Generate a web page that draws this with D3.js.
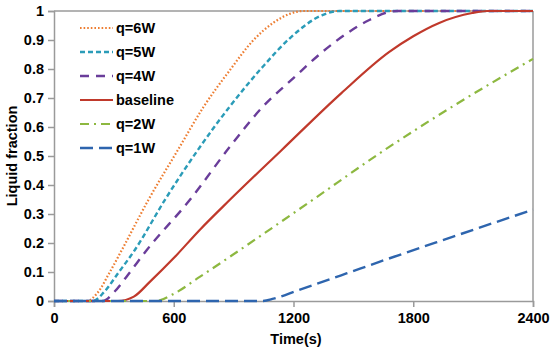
<!DOCTYPE html>
<html><head><meta charset="utf-8">
<script src="https://cdn.jsdelivr.net/npm/d3@7"></script>
<style>
body{margin:0;background:#fff;}
text{font-family:"Liberation Sans",Arial,sans-serif;font-weight:bold;fill:#000;}
</style></head>
<body><svg id="c" width="552" height="350"></svg>
<script>
// Data (time in s, liquid fraction)
const xTicks = [0, 600, 1200, 1800, 2400];
const yTicks = [0, 0.1, 0.2, 0.3, 0.4, 0.5, 0.6, 0.7, 0.8, 0.9, 1];
const seriesNames = ["q=6W", "q=5W", "q=4W", "baseline", "q=2W", "q=1W"];
const q6W_t = [0, 165, 220, 280, 340, 470, 620, 750, 880, 1000, 1100, 1180, 1250, 2400];
const q6W_v = [0, 0, 0.03, 0.1, 0.176, 0.345, 0.52, 0.67, 0.795, 0.9, 0.96, 0.99, 1, 1];
const q5W_t = [0, 195, 250, 320, 405, 555, 720, 880, 1045, 1180, 1345, 1430, 2400];
const q5W_v = [0, 0, 0.03, 0.095, 0.176, 0.348, 0.52, 0.67, 0.807, 0.905, 0.986, 1, 1];
const q4W_t = [0, 245, 300, 370, 465, 680, 880, 1045, 1205, 1345, 1470, 1580, 1680, 1720, 2400];
const q4W_v = [0, 0, 0.03, 0.09, 0.176, 0.348, 0.531, 0.669, 0.772, 0.859, 0.924, 0.969, 0.997, 1, 1];
const base_t = [0, 320, 400, 480, 600, 730, 880, 1140, 1440, 1680, 1800, 1930, 2095, 2170, 2400];
const base_v = [0, 0, 0.015, 0.066, 0.148, 0.245, 0.348, 0.52, 0.717, 0.859, 0.913, 0.959, 0.993, 1, 1];
const q2W_t = [0, 510, 600, 730, 880, 1280, 1655, 2000, 2400];
const q2W_v = [0, 0, 0.025, 0.083, 0.152, 0.341, 0.52, 0.672, 0.835];
const q1W_t = [0, 1040, 1100, 1215, 1465, 1630, 2000, 2400];
const q1W_v = [0, 0, 0.008, 0.035, 0.095, 0.135, 0.222, 0.315];

const colors = ["#ED7D31", "#2B9CB8", "#6A3D9A", "#C0392B", "#8DB840", "#2E65AE"];
const dashes = ["1.6,2", "5,3", "9,7", null, "9,5,2,5", "13,6"];
const widths = [2.2, 2.4, 2.4, 2.2, 2.2, 2.4];

const seriesT = [q6W_t, q5W_t, q4W_t, base_t, q2W_t, q1W_t];
const seriesV = [q6W_v, q5W_v, q4W_v, base_v, q2W_v, q1W_v];

const svg = d3.select("#c");
const L = 54, R = 533, T = 11, B = 301;
const x = d3.scaleLinear().domain([0, 2400]).range([L, R]);
const y = d3.scaleLinear().domain([0, 1]).range([B, T]);
const grey = "#9a9a9a";
const fs = "14.5px";

// plot border top/right
svg.append("line").attr("x1", L).attr("x2", R).attr("y1", T).attr("y2", T).attr("stroke", grey).attr("stroke-width", 1.5);
svg.append("line").attr("x1", R).attr("x2", R).attr("y1", T).attr("y2", B).attr("stroke", grey).attr("stroke-width", 1.5);

// axes
const xAxis = d3.axisBottom(x).tickValues(xTicks).tickSize(6).tickPadding(6).tickFormat(d3.format("d"));
const yAxis = d3.axisLeft(y).tickValues(yTicks).tickSize(6).tickPadding(4).tickFormat(d => d === 0 || d === 1 ? String(d) : d3.format(".1f")(d));
const gx = svg.append("g").attr("transform", `translate(0,${B})`).call(xAxis);
const gy = svg.append("g").attr("transform", `translate(${L},0)`).call(yAxis);
[gx, gy].forEach(g => {
  g.select(".domain").attr("stroke", grey).attr("stroke-width", 1.5);
  g.selectAll(".tick line").attr("stroke", grey).attr("stroke-width", 1.5);
  g.selectAll(".tick text").style("font-size", fs).style("font-weight", "bold").attr("fill", "#000")
    .style("font-family", "'Liberation Sans', Arial, sans-serif");
});

// lines
const line = d3.line().x(d => x(d[0])).y(d => y(d[1])).curve(d3.curveMonotoneX);
seriesNames.forEach((n, i) => {
  const pts = seriesT[i].map((t, j) => [t, seriesV[i][j]]);
  svg.append("path").datum(pts).attr("d", line).attr("fill", "none")
    .attr("stroke", colors[i]).attr("stroke-width", widths[i])
    .attr("stroke-dasharray", dashes[i]);
});

// legend
seriesNames.forEach((n, i) => {
  const yy = 28 + i * 24;
  svg.append("line").attr("x1", 80).attr("x2", 113).attr("y1", yy).attr("y2", yy)
    .attr("stroke", colors[i]).attr("stroke-width", widths[i]).attr("stroke-dasharray", dashes[i]);
  svg.append("text").attr("x", 116).attr("y", yy).attr("dy", "0.36em").style("font-size", fs).text(n);
});

// axis titles
svg.append("text").attr("x", 296).attr("y", 344).attr("text-anchor", "middle").style("font-size", fs).text("Time(s)");
svg.append("text").attr("transform", "translate(17,156) rotate(-90)").attr("text-anchor", "middle").style("font-size", fs).text("Liquid fraction");
</script></body></html>
